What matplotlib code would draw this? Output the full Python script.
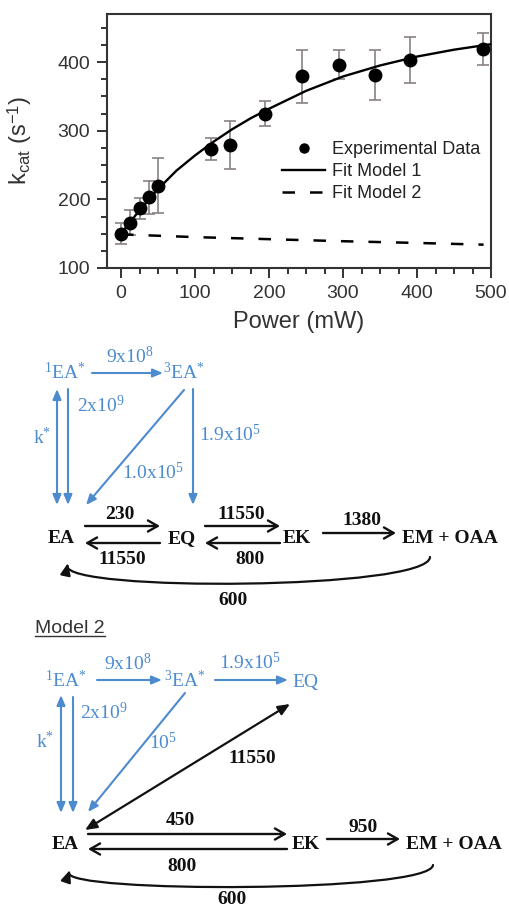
import matplotlib
matplotlib.use('Agg')
import matplotlib.pyplot as plt
from matplotlib.lines import Line2D
from matplotlib.patches import FancyArrowPatch
from matplotlib.path import Path
from matplotlib.ticker import MultipleLocator

plt.rcParams['font.family'] = ['Liberation Sans', 'DejaVu Sans']
plt.rcParams['mathtext.fontset'] = 'custom'
plt.rcParams['mathtext.rm'] = 'Liberation Serif'
plt.rcParams['mathtext.it'] = 'Liberation Serif:italic'
plt.rcParams['mathtext.bf'] = 'Liberation Serif:bold'
plt.rcParams['mathtext.sf'] = 'Liberation Sans'

# ---------------- data ----------------
power = [0, 12, 25, 38, 50, 122, 147, 195, 245, 294, 343, 391, 489]
kcat = [150, 166, 187, 203, 220, 274, 279, 325, 379, 396, 381, 403, 419]
kcat_err = [15, 18, 15, 24, 40, 16, 35, 18, 38, 21, 37, 33, 24]

fit1_x = [0, 10, 25, 50, 75, 100, 125, 150, 175, 200, 250, 300, 350, 400, 450, 500]
fit1_y = [150, 164, 184, 215, 242, 264, 284, 302, 318, 332, 358, 379, 395, 408, 418, 426]
fit2_x = [0, 100, 200, 300, 400, 490]
fit2_y = [149, 145, 142, 139, 136.5, 134]

legend_labels = ['Experimental Data', 'Fit Model 1', 'Fit Model 2']
xticks = [0, 100, 200, 300, 400, 500]
yticks = [100, 200, 300, 400]

BLUE = '#4d8bcf'
BLACK = '#111111'

W, H = 510, 909
fig = plt.figure(figsize=(W / 100, H / 100), dpi=100)

# ---------------- chart ----------------
ax = fig.add_axes([107 / W, 1 - 268 / H, 384 / W, 254 / H])
ax.errorbar(power, kcat, yerr=kcat_err, fmt='none', ecolor='#8a8282',
            elinewidth=1.2, capsize=4, capthick=1.2, zorder=2)
ax.plot(fit1_x, fit1_y, color='black', lw=1.7, zorder=3)
ax.plot(fit2_x, fit2_y, color='black', lw=1.8, dashes=(5, 6), zorder=3)
ax.plot(power, kcat, 'o', color='black', ms=9, zorder=4)

ax.set_xlim(-19, 500)
ax.set_ylim(100, 470)
ax.set_xticks(xticks)
ax.set_yticks(yticks)
ax.xaxis.set_minor_locator(MultipleLocator(25))
ax.yaxis.set_minor_locator(MultipleLocator(25))
ax.tick_params(which='both', direction='out', top=False, right=False,
               width=1.4, color='#333333', labelcolor='#333333', labelsize=14)
ax.tick_params(which='major', length=7, pad=5)
ax.tick_params(which='minor', length=4)
for sp in ax.spines.values():
    sp.set_linewidth(1.5)
    sp.set_color('#333333')

ax.set_xlabel('Power (mW)', fontsize=17, color='#333333')
ax.set_ylabel(r'k$_{\mathsf{cat}}$ (s$^{\mathsf{-1}}$)', fontsize=17, color='#333333')
ax.xaxis.set_label_coords(0.5, -0.17)
ax.yaxis.set_label_coords(-0.19, 0.5)

handles = [Line2D([], [], ls='none', marker='o', color='black', ms=6.5),
           Line2D([], [], color='black', lw=1.7),
           Line2D([], [], color='black', lw=1.8, dashes=(5, 6))]
fig.legend(handles, legend_labels, loc='upper left',
           bbox_to_anchor=(282 / W, 1 - 141 / H), frameon=False, fontsize=13,
           handlelength=2.4, handletextpad=0.35, labelspacing=0.28,
           borderpad=0, borderaxespad=0, labelcolor='#222222')

# ---------------- reaction schemes ----------------
dax = fig.add_axes([0, 0, 1, 1])
dax.set_xlim(0, W)
dax.set_ylim(H, 0)
dax.axis('off')
dax.set_zorder(-1)


def txt(x, yc, s, color, bold=False, size=14, ha='center'):
    dax.text(x, yc + 0.46 * size, s, color=color, fontsize=size, ha=ha,
             va='baseline', family='Liberation Serif',
             fontweight='bold' if bold else 'normal')


def arr(p0, p1, color, style, lw=1.5, ms=10):
    dax.annotate('', xy=p1, xytext=p0,
                 arrowprops=dict(arrowstyle=style, color=color, lw=lw,
                                 shrinkA=0, shrinkB=0, mutation_scale=ms))


BHEAD = '-|>,head_length=0.6,head_width=0.25'
BHEAD2 = '<|-|>,head_length=0.6,head_width=0.25'
KHEAD = '->,head_length=0.7,head_width=0.4'


def curve(p0, c1, c2, p1):
    path = Path([p0, c1, c2, p1],
                [Path.MOVETO, Path.CURVE4, Path.CURVE4, Path.CURVE4])
    dax.add_patch(FancyArrowPatch(path=path,
                                  arrowstyle='-|>,head_length=0.7,head_width=0.3',
                                  mutation_scale=10, lw=1.6, color=BLACK))


# Model 1
txt(65, 373, r'$^{1}$EA$^{*}$', BLUE)
txt(130, 357, r'9x10$^{8}$', BLUE)
txt(184, 373, r'$^{3}$EA$^{*}$', BLUE)
txt(77, 406, r'2x10$^{9}$', BLUE, ha='left')
txt(42, 438, r'k$^{*}$', BLUE)
txt(153, 473, r'1.0x10$^{5}$', BLUE)
txt(199, 435, r'1.9x10$^{5}$', BLUE, ha='left')
arr((92, 373), (163, 373), BLUE, BHEAD, lw=1.5)
arr((57, 389), (57, 505), BLUE, BHEAD2, lw=1.5)
arr((68, 389), (68, 505), BLUE, BHEAD, lw=1.5)
arr((184, 390), (86, 505), BLUE, BHEAD, lw=1.5)
arr((193, 389), (193, 505), BLUE, BHEAD, lw=1.5)

txt(61, 537, 'EA', BLACK, True)
txt(182, 537, 'EQ', BLACK, True)
txt(297, 537, 'EK', BLACK, True)
txt(450, 537, 'EM + OAA', BLACK, True)
txt(120, 513, '230', BLACK, True)
txt(122, 558, '11550', BLACK, True)
txt(241, 513, '11550', BLACK, True)
txt(250, 558, '800', BLACK, True)
txt(362, 519, '1380', BLACK, True)
txt(233, 599, '600', BLACK, True)
arr((85, 526), (160, 526), BLACK, KHEAD, lw=1.7)
arr((160, 543), (85, 543), BLACK, KHEAD, lw=1.7)
arr((205, 526), (280, 526), BLACK, KHEAD, lw=1.7)
arr((280, 543), (205, 543), BLACK, KHEAD, lw=1.7)
arr((323, 533), (396, 533), BLACK, KHEAD, lw=1.7)
curve((430, 557), (429, 590), (62, 592), (68, 563))

# Model 2
dax.text(35, 633, 'Model 2', fontsize=14, color='#333333', ha='left',
         va='baseline', family='Liberation Sans')
dax.plot([35, 105], [636, 636], color='#333333', lw=1.0)

txt(66, 681, r'$^{1}$EA$^{*}$', BLUE)
txt(128, 664, r'9x10$^{8}$', BLUE)
txt(185, 681, r'$^{3}$EA$^{*}$', BLUE)
txt(250, 663, r'1.9x10$^{5}$', BLUE)
txt(305, 681, 'EQ', BLUE)
txt(80, 713, r'2x10$^{9}$', BLUE, ha='left')
txt(45, 742, r'k$^{*}$', BLUE)
txt(163, 743, r'10$^{5}$', BLUE)
arr((97, 680), (162, 680), BLUE, BHEAD, lw=1.5)
arr((215, 680), (288, 680), BLUE, BHEAD, lw=1.5)
arr((61, 695), (61, 813), BLUE, BHEAD2, lw=1.5)
arr((73, 697), (73, 813), BLUE, BHEAD, lw=1.5)
arr((185, 693), (88, 812), BLUE, BHEAD, lw=1.5)
arr((85, 830), (290, 704), BLACK, '<|-|>,head_length=0.7,head_width=0.3', lw=1.6)

txt(252, 757, '11550', BLACK, True)
txt(65, 843, 'EA', BLACK, True)
txt(306, 843, 'EK', BLACK, True)
txt(454, 843, 'EM + OAA', BLACK, True)
txt(180, 819, '450', BLACK, True)
txt(182, 865, '800', BLACK, True)
txt(363, 826, '950', BLACK, True)
txt(232, 898, '600', BLACK, True)
arr((88, 834), (287, 834), BLACK, KHEAD, lw=1.7)
arr((287, 849), (88, 849), BLACK, KHEAD, lw=1.7)
arr((327, 839), (400, 839), BLACK, KHEAD, lw=1.7)
curve((433, 865), (431, 893), (62, 893), (70, 870))

fig.savefig('out.png', dpi=100)
